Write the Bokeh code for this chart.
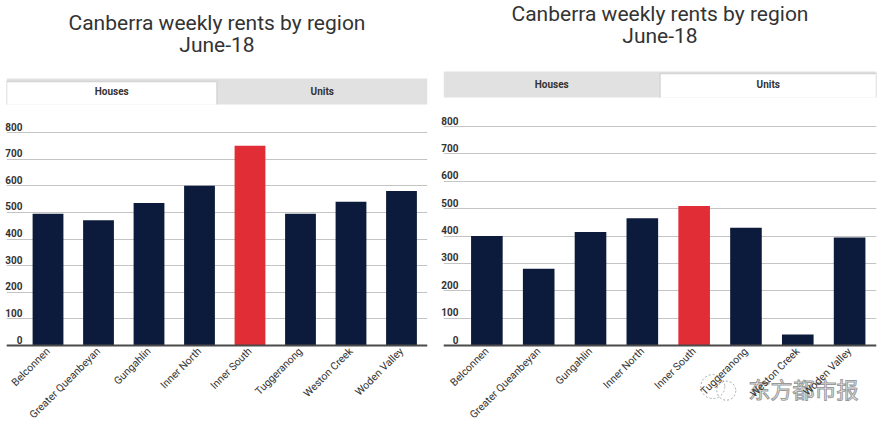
from math import pi
from bokeh.plotting import figure
from bokeh.layouts import row
from bokeh.models import Range1d, FixedTicker, LinearAxis, Grid
from bokeh.embed import file_html
from bokeh.resources import INLINE
from bokeh.core.properties import value

regions = ["Belconnen", "Greater Queanbeyan", "Gungahlin", "Inner North",
           "Inner South", "Tuggeranong", "Weston Creek", "Woden Valley"]
houses = [495, 470, 535, 600, 750, 495, 540, 580]
units = [400, 280, 415, 465, 510, 430, 40, 395]
y_ticks = [0, 100, 200, 300, 400, 500, 600, 700, 800]
tab_names = ["Houses", "Units"]
title_lines = ["Canberra weekly rents by region", "June-18"]
highlight = "Inner South"
watermark = ["东方都市报"]

NAVY = "#0c1a3b"
RED = "#e12d36"
FONT = "Roboto"
x_pos = list(range(len(regions)))
bar_colors = [RED if r == highlight else NAVY for r in regions]


def make_panel(vals, active, width, x_start, x_end, y_bottom, y_top, title_y,
               tab_top, tab_bottom, tab_active_top, label_shift, min_left, min_right,
               standoff_y):
    p = figure(width=width, height=427, x_range=Range1d(x_start, x_end),
               y_range=Range1d(y_bottom, y_top), output_backend="svg",
               toolbar_location=None, y_axis_location=None,
               min_border_left=min_left, min_border_right=min_right,
               min_border_top=0, min_border_bottom=0, title=None)
    p.outline_line_color = None
    p.background_fill_color = "white"
    for g in p.ygrid:
        g.visible = False
    for g in p.xgrid:
        g.visible = False
    p.add_layout(Grid(dimension=1, ticker=FixedTicker(ticks=y_ticks),
                      grid_line_color="#c4c4c4", grid_line_width=1))

    mid = (x_start + x_end) / 2

    # two-line centred title
    p.text(x=[mid, mid], y=title_y, text=title_lines, text_align="center",
           text_baseline="middle", text_font=value(FONT), text_font_size="21px",
           text_color="#333333")

    # tabs
    p.quad(left=[x_start], right=[x_end], bottom=[tab_bottom], top=[tab_top],
           fill_color="#e1e1e1", line_color=None)
    tl = x_start if active == 0 else mid
    tr = mid if active == 0 else x_end
    p.quad(left=[tl], right=[tr], bottom=[tab_bottom], top=[tab_active_top],
           fill_color="white", line_color=None)
    p.line(x=[tl, tl, tr, tr], y=[tab_bottom, tab_active_top, tab_active_top, tab_bottom],
           line_color="#d4d4d4", line_width=1.5)
    p.text(x=[(x_start + mid) / 2, (mid + x_end) / 2],
           y=[(tab_bottom + tab_top) / 2] * 2, text=tab_names,
           text_align="center", text_baseline="middle", text_font=value(FONT),
           text_font_size="10px", text_font_style="bold", text_color="#333333")

    # bars
    p.vbar(x=x_pos, top=vals, width=0.61, fill_color=bar_colors, line_color=None)

    # x axis fixed at zero; the frame extends below it so the labels stay visible
    ax = p.xaxis[0]
    ax.fixed_location = 0
    ax.ticker = FixedTicker(ticks=x_pos)
    ax.major_label_overrides = {i: r for i, r in enumerate(regions)}
    ax.major_label_orientation = pi / 4
    ax.major_label_text_font = FONT
    ax.major_label_text_font_size = "10.5px"
    ax.major_label_text_color = "#333333"
    ax.major_label_standoff = 4
    ax.axis_line_color = "#4a4a4a"
    ax.axis_line_width = 2
    ax.major_tick_line_color = None
    ax.minor_tick_line_color = None
    ax.major_tick_out = 0
    ax.minor_tick_out = 0

    # y labels (sit just above their grid lines)
    p.extra_y_ranges = {"lab": Range1d(y_bottom - label_shift, y_top - label_shift)}
    yax = LinearAxis(y_range_name="lab", ticker=FixedTicker(ticks=y_ticks),
                     axis_line_color=None, major_tick_line_color=None,
                     minor_tick_line_color=None, major_tick_in=0, major_tick_out=0,
                     major_label_standoff=standoff_y, major_label_text_font=FONT,
                     major_label_text_font_size="10px", major_label_text_font_style="bold",
                     major_label_text_color="#333333")
    p.add_layout(yax, "left")
    return p


p1 = make_panel(houses, 0, 438, -0.822, 7.515, -308, 1295.8, [1213.1, 1126.8],
                1002.8, 905.2, 991.7, 22.5, 6, 11, -16)
p2 = make_panel(units, 1, 445, -0.837, 7.519, -299.5, 1260.3, [1212.8, 1128.8],
                1000.9, 905.9, 993.6, 21.9, 3, 7, -15)

# watermark of the source image
p2.scatter(x=[4.36, 4.62], y=[-150, -165], size=[24, 19], marker="circle",
           fill_color=None, line_color="#a8a8a8", line_dash="2 2", line_width=1)
p2.text(x=[5.05], y=[-157], text=watermark, text_baseline="middle",
        text_font=value("Noto Sans CJK SC"), text_font_size="22px",
        text_color="#f7f7f7", text_outline_color="#9a9a9a")

layout = row(p1, p2)
open("out.html", "w").write(file_html(layout, INLINE))
